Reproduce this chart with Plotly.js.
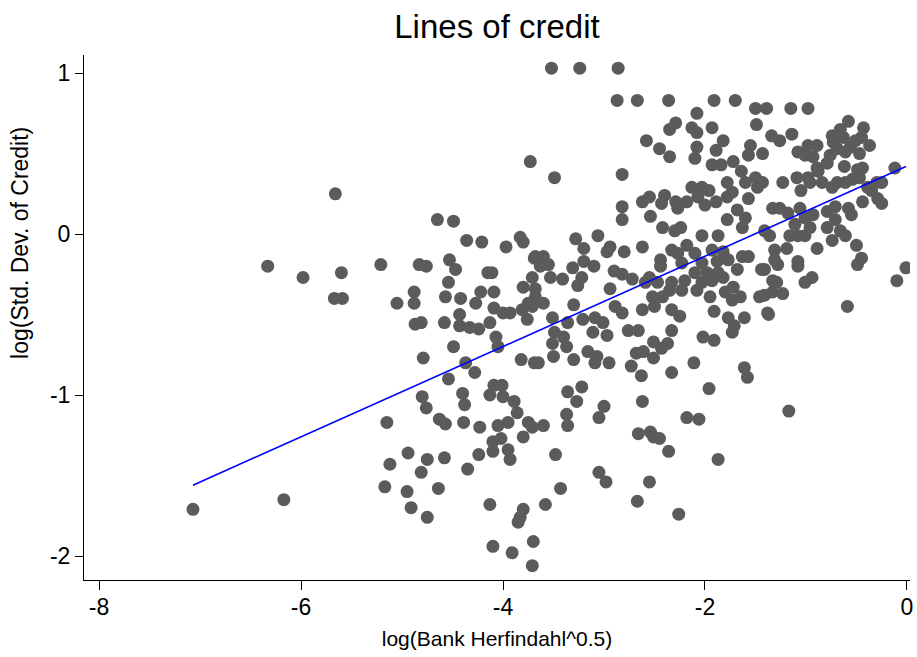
<!DOCTYPE html>
<html>
<head>
<meta charset="utf-8">
<script src="https://cdn.plot.ly/plotly-3.0.1.min.js"></script>
<style>html,body{margin:0;padding:0;background:#fff;}#chart{width:917px;height:657px;}</style>
</head>
<body>
<div id="chart"></div>
<script>
// log(Bank Herfindahl^0.5)
var xVals = [
-5.66,-6.33,-5.98,-5.60,-5.21,-5.67,-5.59,-5.05,-5.15,-5.12,-5.17,-6.17,-7.07,
-3.73,-4.65,-4.49,-4.36,-4.21,-3.97,-3.83,-3.80,-3.69,-4.83,-4.76,-4.53,-4.47,-4.15,-4.11,-4.54,-4.88,-4.88,-4.57,-4.42,-4.22,-4.09,-4.27,-4.09,-4.00,-3.93,-3.80,-3.71,-3.81,-3.76,-3.75,-4.87,-4.81,-4.58,-4.43,-4.43,-4.33,-4.24,-4.13,-4.07,-4.05,-4.49,-4.79,-4.37,-3.82,-3.69,-4.28,-4.54,
-4.80,-4.76,-4.40,-4.38,-4.63,-4.57,-4.39,-4.23,-4.09,-4.01,-4.13,-4.00,-3.89,-3.86,-3.95,-4.05,-3.75,-3.71,-3.80,-4.10,-4.02,-3.95,-4.10,-3.93,-4.24,-4.35,-4.58,-4.75,-4.94,-4.81,-4.95,-4.64,-4.91,-4.75,-4.13,-3.80,-3.83,-3.85,-4.10,-3.91,-3.71,-3.70,
-3.52,-3.24,-2.86,-2.87,-2.67,-2.58,-3.49,-2.82,-2.82,-2.82,-2.62,-2.55,-2.54,-3.28,-3.20,-3.06,-2.94,-2.97,-2.80,-2.62,-3.68,-3.60,-3.55,-3.63,-3.53,-3.41,-3.31,-3.20,-3.10,-3.22,-3.26,-2.90,-2.82,-2.94,-2.72,-2.55,-3.68,
-3.68,-3.71,-3.60,-3.30,-3.51,-3.36,-3.21,-3.09,-3.01,-3.11,-2.97,-3.49,-3.40,-3.37,-3.51,-3.50,-3.65,-3.30,-3.16,-3.07,-3.09,-2.95,-2.89,-2.82,-2.76,-2.66,-2.62,-2.51,-2.68,-2.61,-2.73,-2.63,-2.51,-3.36,-3.22,-3.27,-3.37,-3.36,-3.00,-3.05,-2.62,-2.66,-2.54,-3.60,-3.48,-3.05,-2.98,-3.43,-3.58,-2.67,-2.55,
-2.36,-1.91,-1.70,-1.50,-1.39,-2.08,-1.49,-2.29,-2.35,-2.13,-2.08,-1.93,-1.34,-2.45,-2.35,-2.08,-2.10,-1.82,-1.89,-1.55,-1.57,-1.43,-1.93,-1.84,-1.72,-1.64,-1.78,-1.60,-1.50,-1.43,-1.48,-1.73,-1.78,-1.57,-2.13,-2.03,-1.96,-2.07,-1.89,-2.00,-2.18,-2.29,-2.40,-2.43,-2.27,-1.68,-1.78,-1.60,-2.42,-2.30,-2.24,-2.03,-1.87,-1.63,-1.33,
-2.18,-2.33,-2.27,-2.10,-1.93,-1.82,-2.44,-2.44,-2.23,-2.03,-1.88,-1.77,-1.63,-1.57,-1.68,-2.10,-1.98,-1.87,-1.82,-2.59,-2.47,-2.33,-2.20,-2.03,-1.93,-2.35,-2.23,-2.08,-1.95,-1.80,-1.72,-1.73,-1.65,-1.44,-1.46,-1.33,-1.38,-2.52,-2.42,-2.50,-2.33,-2.25,-1.91,-1.77,-1.61,-1.71,-1.73,-2.33,-2.37,-2.43,-2.02,-1.91,-2.11,-2.33,-1.61,-1.58,-1.96,
-2.18,-2.06,-2.51,-2.45,-2.36,-1.87,-2.26,
-1.15,-0.98,-0.58,-0.43,-0.66,-1.26,-1.14,-0.74,-0.73,-0.63,-0.51,-0.45,-0.37,-0.98,-0.89,-1.08,-1.01,-0.93,-0.69,-0.61,-0.56,-0.47,-0.76,-0.79,-0.89,-0.62,-0.49,-0.44,-0.12,-1.23,-1.09,-0.98,-1.05,-0.96,-0.88,-0.84,-0.74,-0.69,-0.61,-0.54,-0.47,-0.39,-0.30,-0.25,-0.35,-0.29,-0.25,-0.44,-0.58,-0.55,-1.26,-1.18,-1.06,-0.71,-0.79,-0.93,-1.01,-0.71,-1.11,-1.08,-0.96,-0.79,-0.66,-0.61,-1.41,-1.36,
-1.16,-1.01,-1.19,-1.31,-0.89,-0.74,-0.50,-0.45,-0.49,-1.31,-1.28,-1.08,-1.08,-1.41,-0.94,-1.01,-1.29,-1.33,-1.23,-1.41,-1.37,-0.59,-0.01,-0.10,
-1.17
];
// log(Std. Dev. of Credit)
var yVals = [
0.25,-0.20,-0.27,-0.24,-0.19,-0.40,-0.40,-0.43,-1.17,-1.43,-1.57,-1.65,-1.71,
0.45,0.09,0.08,-0.04,-0.05,-0.08,-0.02,-0.05,-0.15,-0.19,-0.20,-0.16,-0.22,-0.24,-0.24,-0.30,-0.36,-0.43,-0.39,-0.40,-0.36,-0.36,-0.43,-0.46,-0.49,-0.49,-0.33,-0.27,-0.47,-0.53,-0.43,-0.56,-0.55,-0.55,-0.50,-0.57,-0.58,-0.59,-0.55,-0.64,-0.70,-0.70,-0.77,-0.80,-0.78,-0.80,-0.86,-0.90,
-1.01,-1.08,-0.99,-1.06,-1.15,-1.18,-1.17,-1.20,-0.94,-0.94,-1.00,-1.01,-1.04,-1.11,-1.17,-1.19,-1.17,-1.20,-1.26,-1.29,-1.27,-1.34,-1.35,-1.40,-1.37,-1.46,-1.39,-1.40,-1.36,-1.48,-1.60,-1.58,-1.70,-1.76,-1.68,-1.71,-1.76,-1.79,-1.94,-1.98,-2.06,-1.91,
1.03,1.03,1.03,0.83,0.83,0.58,0.35,0.37,0.17,0.09,0.20,0.23,0.11,-0.03,-0.09,-0.01,-0.08,-0.11,-0.11,-0.08,-0.14,-0.14,-0.19,-0.20,-0.27,-0.28,-0.21,-0.17,-0.20,-0.27,-0.32,-0.23,-0.25,-0.34,-0.28,-0.27,-0.34,
-0.39,-0.45,-0.43,-0.44,-0.52,-0.55,-0.53,-0.52,-0.55,-0.61,-0.63,-0.61,-0.64,-0.70,-0.68,-0.76,-0.80,-0.78,-0.73,-0.76,-0.80,-0.80,-0.45,-0.49,-0.60,-0.60,-0.47,-0.67,-0.74,-0.73,-0.82,-0.88,-0.77,-0.98,-0.95,-1.04,-1.12,-1.19,-1.07,-1.14,-1.04,-1.24,-1.23,-1.19,-1.37,-1.48,-1.54,-1.58,-1.68,-1.66,-1.54,
0.83,0.83,0.83,0.78,0.78,0.75,0.68,0.69,0.65,0.66,0.63,0.66,0.61,0.53,0.48,0.54,0.47,0.58,0.52,0.55,0.49,0.50,0.43,0.43,0.45,0.39,0.32,0.32,0.35,0.32,0.29,0.26,0.23,0.22,0.29,0.29,0.27,0.23,0.20,0.18,0.20,0.20,0.24,0.19,0.16,0.15,0.09,0.10,0.04,0.02,0.04,-0.01,-0.01,0.04,0.16,
-0.07,-0.10,-0.12,-0.12,-0.10,-0.11,-0.16,-0.20,-0.18,-0.18,-0.17,-0.16,-0.14,-0.14,-0.22,-0.24,-0.24,-0.24,-0.27,-0.30,-0.30,-0.30,-0.29,-0.30,-0.29,-0.35,-0.35,-0.35,-0.39,-0.36,-0.33,-0.41,-0.39,-0.22,-0.39,-0.29,-0.49,-0.39,-0.39,-0.45,-0.47,-0.51,-0.48,-0.52,-0.52,-0.57,-0.61,-0.60,-0.68,-0.71,-0.64,-0.66,-0.80,-0.86,-0.83,-0.89,-0.96,
-1.14,-1.15,-1.26,-1.27,-1.35,-1.40,-1.74,
0.78,0.78,0.70,0.66,0.65,0.58,0.62,0.61,0.57,0.60,0.58,0.60,0.55,0.55,0.55,0.51,0.49,0.48,0.53,0.51,0.54,0.50,0.49,0.44,0.41,0.42,0.40,0.41,0.41,0.32,0.35,0.35,0.27,0.32,0.39,0.32,0.29,0.32,0.32,0.34,0.35,0.29,0.32,0.32,0.27,0.22,0.19,0.20,0.16,0.12,0.16,0.13,0.16,0.17,0.14,0.12,0.10,0.09,0.06,-0.01,0.04,0.04,0.02,-0.01,0.02,-0.01,
-0.01,-0.01,-0.09,-0.10,-0.09,-0.04,-0.07,-0.15,-0.19,-0.16,-0.19,-0.17,-0.20,-0.22,-0.27,-0.30,-0.30,-0.36,-0.37,-0.38,-0.50,-0.45,-0.21,-0.29,
-1.10
];
// Fitted line endpoints
var fitX = [-7.07, -0.01];
var fitY = [-1.56, 0.42];

var xTicks = [-8, -6, -4, -2, 0];
var yTicks = [-2, -1, 0, 1];

var font = "Liberation Sans, Arial, Helvetica, sans-serif";

var traces = [
  {
    type: 'scatter', mode: 'markers', x: xVals, y: yVals,
    marker: {color: '#5b5b5b', size: 13, line: {width: 0}},
    hoverinfo: 'x+y', showlegend: false
  },
  {
    type: 'scatter', mode: 'lines', x: fitX, y: fitY,
    line: {color: '#0000ff', width: 1.6},
    showlegend: false
  }
];

var layout = {
  width: 917, height: 657,
  margin: {l: 84, r: 7, t: 55, b: 77},
  paper_bgcolor: '#ffffff', plot_bgcolor: '#ffffff',
  font: {family: font, color: '#000000', size: 21},
  title: {text: 'Lines of credit', font: {family: font, size: 33, color: '#000'},
          x: 0.5, xref: 'paper', y: 0.96, yref: 'container', yanchor: 'middle'},
  xaxis: {
    range: [-8.149, 0.03], tickvals: xTicks, ticktext: xTicks.map(String),
    showline: true, linecolor: '#000', linewidth: 1, mirror: false,
    ticks: 'outside', ticklen: 9, tickcolor: '#000', tickwidth: 1,
    ticklabelstandoff: -3,
    showgrid: false, zeroline: false, tickfont: {size: 23},
    title: {text: 'log(Bank Herfindahl^0.5)', font: {size: 21}, standoff: 12}
  },
  yaxis: {
    range: [-2.149, 1.112], tickvals: yTicks, ticktext: yTicks.map(String),
    showline: true, linecolor: '#000', linewidth: 1, mirror: false,
    ticks: 'outside', ticklen: 8, tickcolor: '#000', tickwidth: 1,
    showgrid: false, zeroline: false, tickfont: {size: 23}
  },
  annotations: [{
    text: 'log(Std. Dev. of Credit)', textangle: -90, showarrow: false,
    xref: 'paper', yref: 'paper', x: -0.0775, y: 0.642,
    xanchor: 'center', yanchor: 'middle',
    font: {family: font, size: 23, color: '#000'}
  }]
};

Plotly.newPlot('chart', traces, layout, {displayModeBar: false, staticPlot: true});
</script>
</body>
</html>
